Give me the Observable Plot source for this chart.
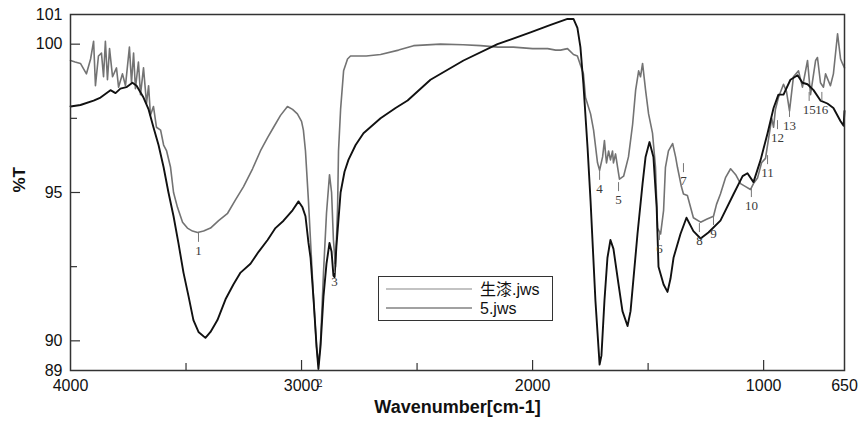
<!DOCTYPE html>
<html>
<head>
<meta charset="utf-8">
<script src="https://cdn.jsdelivr.net/npm/d3@7"></script>
<script src="https://cdn.jsdelivr.net/npm/@observablehq/plot@0.6"></script>
<style>
  html, body { margin: 0; padding: 0; background: #fff; }
  #wrap { position: relative; width: 867px; height: 429px; font-family: "Liberation Sans", Arial, sans-serif; }
  #legend { position: absolute; left: 378px; top: 276px; width: 173px; height: 43px; border: 1.5px solid #333; background: #fff; }
  #legend svg { position: absolute; left: 0; top: 0; }
</style>
</head>
<body>
<div id="wrap"></div>
<script>
// ---- data ----
const seriesNames = ["生漆.jws", "5.jws"];

// 生漆.jws  [wavenumber cm-1, %T]
const rawLacquer = [
  [4000,99.45],[3980,99.4],[3957,99.35],[3931,99.0],[3913,99.5],[3900,100.1],[3892,98.6],[3879,99.6],
  [3866,99.7],[3857,98.9],[3849,100.1],[3840,98.8],[3831,99.85],[3818,98.9],[3801,99.2],[3792,98.55],
  [3775,99.0],[3762,98.6],[3745,99.9],[3736,98.7],[3727,99.7],[3719,98.5],[3706,99.4],[3697,98.3],
  [3684,99.2],[3671,98.0],[3662,98.6],[3654,97.6],[3641,97.9],[3628,97.2],[3610,97.1],[3597,96.6],
  [3584,96.4],[3567,95.85],[3554,95.0],[3537,94.5],[3515,94.0],[3494,93.8],[3472,93.7],[3450,93.65],
  [3424,93.7],[3394,93.8],[3359,94.05],[3320,94.3],[3286,94.75],[3251,95.2],[3212,95.8],[3178,96.4],
  [3147,96.85],[3121,97.2],[3091,97.6],[3061,97.9],[3039,97.8],[3018,97.65],[3000,97.4],[2992,97.1],
  [2983,96.4],[2970,94.7],[2948,91.4],[2935,89.8],[2927,89.2],[2918,89.9],[2905,92.3],[2892,94.3],
  [2879,95.6],[2870,95.0],[2862,93.4],[2853,92.5],[2844,94.5],[2840,96.4],[2831,97.8],[2818,99.1],
  [2801,99.5],[2788,99.6],[2720,99.6],[2658,99.65],[2580,99.8],[2515,99.95],[2399,100.0],[2300,99.98],
  [2225,99.95],[2150,99.9],[2083,99.9],[2000,99.85],[1935,99.85],[1900,99.8],[1879,99.8],[1849,99.85],
  [1823,99.65],[1806,99.6],[1793,99.3],[1780,99.0],[1771,98.2],[1749,97.65],[1736,97.1],[1719,96.0],
  [1710,95.75],[1697,96.2],[1689,96.75],[1684,96.3],[1680,96.0],[1671,96.4],[1663,96.1],[1654,96.4],
  [1650,96.0],[1641,96.3],[1632,95.85],[1624,95.45],[1606,95.55],[1585,96.2],[1567,97.3],[1554,98.45],
  [1541,99.1],[1533,98.9],[1524,99.35],[1511,98.45],[1498,97.65],[1481,97.0],[1468,95.85],[1459,93.8],
  [1446,93.6],[1433,94.4],[1425,95.85],[1412,96.4],[1394,96.65],[1381,96.2],[1373,95.85],[1356,95.2],
  [1347,94.95],[1330,94.9],[1304,94.15],[1273,94.0],[1247,94.1],[1217,94.2],[1204,94.6],[1187,94.95],
  [1165,95.5],[1143,95.8],[1121,95.6],[1100,95.3],[1078,95.2],[1057,95.1],[1044,95.3],[1026,95.5],
  [1009,96.0],[992,96.15],[978,96.85],[965,97.5],[957,97.2],[949,97.8],[936,98.2],[914,98.65],
  [901,98.4],[888,97.75],[871,98.9],[849,99.1],[832,98.55],[810,99.45],[797,98.3],[775,99.45],
  [767,99.55],[754,98.7],[741,98.55],[732,99.0],[711,98.6],[698,99.0],[680,100.35],[667,99.5],
  [659,99.35],[650,99.2]
];

// 5.jws  [wavenumber cm-1, %T]
const sample5 = [
  [4000,97.9],[3957,97.95],[3900,98.1],[3870,98.2],[3827,98.45],[3805,98.35],[3784,98.5],[3758,98.55],
  [3732,98.7],[3714,98.6],[3684,98.2],[3662,97.8],[3641,97.2],[3619,96.6],[3597,95.85],[3576,95.0],
  [3554,94.2],[3533,93.3],[3511,92.3],[3489,91.5],[3468,90.7],[3446,90.3],[3416,90.1],[3394,90.3],
  [3364,90.7],[3329,91.4],[3295,91.9],[3264,92.3],[3221,92.6],[3186,93.0],[3147,93.4],[3113,93.8],
  [3078,94.05],[3039,94.4],[3013,94.7],[2996,94.5],[2983,94.2],[2970,93.3],[2961,92.8],[2948,91.4],
  [2935,89.8],[2927,89.05],[2918,89.8],[2905,91.5],[2892,92.6],[2879,93.3],[2870,93.0],[2862,92.2],
  [2857,92.15],[2849,93.2],[2831,95.0],[2814,95.7],[2797,96.1],[2766,96.6],[2732,97.0],[2658,97.5],
  [2593,97.85],[2541,98.1],[2442,98.8],[2299,99.45],[2152,100.0],[2009,100.4],[1922,100.65],[1849,100.85],
  [1823,100.85],[1806,100.55],[1793,99.9],[1780,98.65],[1762,96.5],[1749,94.7],[1728,91.35],[1710,89.2],
  [1702,89.5],[1689,91.35],[1676,92.8],[1663,93.4],[1650,93.1],[1628,91.9],[1611,91.0],[1589,90.5],
  [1576,91.0],[1546,93.6],[1524,95.3],[1511,96.2],[1494,96.7],[1477,96.2],[1463,94.5],[1455,92.5],
  [1433,91.9],[1416,91.65],[1403,92.1],[1390,92.8],[1360,93.6],[1334,94.15],[1304,93.7],[1273,93.45],
  [1239,93.65],[1187,94.05],[1130,94.95],[1091,95.55],[1070,95.65],[1044,95.35],[1013,96.1],[983,97.0],
  [957,97.85],[936,98.3],[914,98.3],[884,98.8],[853,98.95],[832,98.7],[810,98.65],[784,98.45],
  [754,98.1],[724,98.0],[698,97.85],[667,97.4],[654,97.25],[650,97.75]
];

// peak annotations
const peakLabels = ["1","2","3","4","5","6","7","8","9","10","11","12","13","15","16"];
const peakWn     = [3446,2922,2857,1710,1628,1451,1347,1278,1217,1053,983,940,888,803,748];
const peakT      = [93.05,88.6,92.0,95.14,94.76,93.11,95.4,93.38,93.62,94.56,95.67,96.85,97.26,97.8,97.8];

// axes
const xTickLabels = [4000, 3000, 2000, 1000, 650];
const xMajorTicks = [3000, 2000, 1000];
const xMinorTicks = [3500, 2500, 1500];
const yTickLabels = [89, 90, 95, 100, 101];
const yMajorTicks = [90, 95, 100];
const yMinorTicks = [92.5, 97.5];
const xTitle = "Wavenumber[cm-1]";
const yTitle = "%T";

// ---- chart ----
const W = 867, H = 429;
const mL = 70, mR = 23, mT = 14, mB = 59;
const frameW = W - mL - mR, frameH = H - mT - mB;

const rows = [];
rawLacquer.forEach(([w, t]) => rows.push({series: seriesNames[0], w, t}));
sample5.forEach(([w, t]) => rows.push({series: seriesNames[1], w, t}));
const peaks = peakLabels.map((s, i) => ({s, w: peakWn[i], t: peakT[i]}));

const chart = Plot.plot({
  width: W, height: H,
  marginLeft: mL, marginRight: mR, marginTop: mT, marginBottom: mB,
  style: {fontFamily: "'Liberation Sans', Arial, sans-serif", fontSize: "16px", background: "#fff", color: "#111"},
  x: {domain: [4000, 650]},
  y: {domain: [89, 101]},
  marks: [
    Plot.line(rows.filter(d => d.series === seriesNames[0]), {x: "w", y: "t", stroke: "#737373", strokeWidth: 1.6}),
    Plot.line(rows.filter(d => d.series === seriesNames[1]), {x: "w", y: "t", stroke: "#111", strokeWidth: 1.9}),
    // small leader ticks above each peak number
    Plot.ruleX(peaks.filter(d => d.s !== "2"), {x: "w", y1: "t", y2: "t", insetTop: -17, insetBottom: 8, stroke: "#777", strokeWidth: 1}),
    Plot.text(peaks, {x: "w", y: "t", text: "s", fontFamily: "'Liberation Serif', 'Times New Roman', serif", fontSize: 13, fill: "#3a3a3a"}),
    Plot.tickY(yMajorTicks, {y: d => d, insetRight: frameW - 10, stroke: "#333", strokeWidth: 1.2}),
    Plot.tickY(yMinorTicks, {y: d => d, insetRight: frameW - 7, stroke: "#333", strokeWidth: 1.2}),
    Plot.tickX(xMajorTicks, {x: d => d, insetTop: frameH - 10, stroke: "#333", strokeWidth: 1.2}),
    Plot.tickX(xMinorTicks, {x: d => d, insetTop: frameH - 7, stroke: "#333", strokeWidth: 1.2}),
    Plot.frame({stroke: "#333", strokeWidth: 1.5}),
    Plot.axisX({ticks: xTickLabels, tickSize: 0, tickPadding: 9, fontSize: 16, label: null, tickFormat: d => String(d)}),
    Plot.axisY({ticks: yTickLabels, tickSize: 0, tickPadding: 8, fontSize: 16, label: null, tickFormat: d => String(d)}),
    Plot.text([xTitle], {frameAnchor: "bottom", text: d => d, dy: 42, fontSize: 18, fontWeight: "bold", fill: "#111"}),
    Plot.text([yTitle], {frameAnchor: "left", text: d => d, dx: -51, rotate: -90, fontSize: 17, fontWeight: "bold", fill: "#111"})
  ]
});

const wrap = document.getElementById("wrap");
wrap.appendChild(chart);

// legend box (inside the plot area, as in the reference)
const legend = document.createElement("div");
legend.id = "legend";
const ns = "http://www.w3.org/2000/svg";
const lsvg = document.createElementNS(ns, "svg");
lsvg.setAttribute("width", 173); lsvg.setAttribute("height", 43);
const legendStroke = ["#888", "#444"];
seriesNames.forEach((name, i) => {
  const yy = 12 + i * 19;
  const ln = document.createElementNS(ns, "line");
  ln.setAttribute("x1", 7); ln.setAttribute("x2", 93);
  ln.setAttribute("y1", yy); ln.setAttribute("y2", yy);
  ln.setAttribute("stroke", legendStroke[i]); ln.setAttribute("stroke-width", 1.2);
  lsvg.appendChild(ln);
  const tx = document.createElementNS(ns, "text");
  tx.setAttribute("x", 101); tx.setAttribute("y", yy);
  tx.setAttribute("dy", "0.35em");
  tx.setAttribute("font-size", 16);
  tx.setAttribute("fill", "#111");
  tx.setAttribute("font-family", "'Liberation Sans', Arial, 'Noto Sans CJK SC', sans-serif");
  tx.textContent = name;
  lsvg.appendChild(tx);
});
legend.appendChild(lsvg);
wrap.appendChild(legend);
</script>
</body>
</html>
